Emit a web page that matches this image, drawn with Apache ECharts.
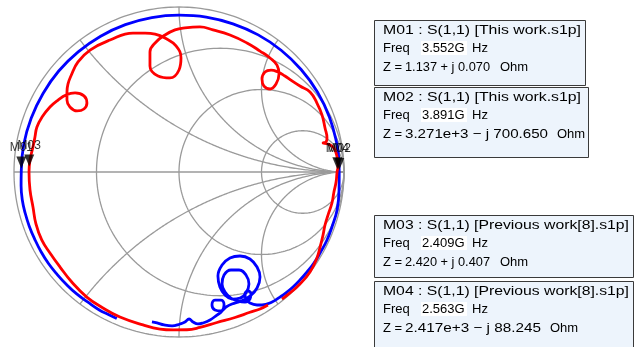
<!DOCTYPE html>
<html>
<head>
<meta charset="utf-8">
<script src="https://cdn.jsdelivr.net/npm/echarts@6/dist/echarts.min.js"></script>
<style>
  html, body { margin: 0; padding: 0; background: #ffffff; }
  #chart { width: 634px; height: 347px; }
</style>
</head>
<body>
<div id="chart"></div>
<script>
// Reference impedance of the Smith chart (Ohm)
const Z0 = 50;

// Grid: constant-resistance circles (r = 0 is the outer rim) and reactance arcs
const resistanceCircles = [0, 1 / 3, 1, 3];
const reactanceArcs = [0.5, 1, 2, -0.5, -1, -2];

// S(1,1) traces as reflection coefficient points [Re, Im]
const thisWorkS11 = [
  [-0.377, -0.888], [-0.431, -0.862], [-0.483, -0.836], [-0.552, -0.789], [-0.620, -0.739],
  [-0.682, -0.682], [-0.739, -0.620], [-0.790, -0.556], [-0.836, -0.483], [-0.874, -0.408],
  [-0.907, -0.330], [-0.932, -0.250], [-0.950, -0.168], [-0.957, -0.084], [-0.956, 0.000],
  [-0.941, 0.166], [-0.896, 0.326], [-0.824, 0.476], [-0.729, 0.612], [-0.611, 0.728],
  [-0.475, 0.823], [-0.325, 0.893], [-0.165, 0.936], [0.000, 0.951], [0.165, 0.939],
  [0.327, 0.898], [0.480, 0.831], [0.619, 0.738], [0.740, 0.621], [0.839, 0.485],
  [0.912, 0.332], [0.957, 0.169], [0.968, 0.085], [0.971, -0.006], [0.970, -0.109],
  [0.958, -0.230], [0.927, -0.333], [0.897, -0.412], [0.855, -0.491], [0.818, -0.552],
  [0.776, -0.606], [0.733, -0.655], [0.691, -0.697], [0.648, -0.733], [0.612, -0.758],
  [0.564, -0.788], [0.503, -0.806], [0.473, -0.806], [0.430, -0.794], [0.406, -0.770],
  [0.400, -0.739], [0.418, -0.721], [0.436, -0.739], [0.430, -0.770], [0.400, -0.788],
  [0.358, -0.782], [0.315, -0.764], [0.279, -0.727], [0.261, -0.679], [0.273, -0.624],
  [0.315, -0.594], [0.364, -0.594], [0.406, -0.624], [0.424, -0.679], [0.406, -0.733],
  [0.370, -0.764], [0.321, -0.770], [0.279, -0.745], [0.248, -0.697], [0.236, -0.630],
  [0.261, -0.564], [0.309, -0.521], [0.370, -0.509], [0.430, -0.527], [0.473, -0.576],
  [0.491, -0.636], [0.473, -0.703], [0.430, -0.752], [0.376, -0.782], [0.321, -0.800],
  [0.285, -0.818], [0.255, -0.842], [0.218, -0.836], [0.200, -0.806], [0.218, -0.776],
  [0.255, -0.776], [0.273, -0.806], [0.261, -0.842], [0.230, -0.867], [0.188, -0.897],
  [0.145, -0.915], [0.115, -0.921], [0.085, -0.909], [0.061, -0.891], [0.036, -0.909],
  [0.006, -0.921], [-0.042, -0.933], [-0.091, -0.927], [-0.133, -0.915], [-0.164, -0.909]
];

const previousWorkS11 = [
  [0.539, -0.806], [0.491, -0.830], [0.430, -0.850], [0.339, -0.882], [0.230, -0.912],
  [0.127, -0.942], [0.048, -0.956], [-0.036, -0.957], [-0.115, -0.952], [-0.218, -0.927],
  [-0.358, -0.879], [-0.461, -0.824], [-0.559, -0.758], [-0.650, -0.667], [-0.721, -0.576],
  [-0.782, -0.491], [-0.832, -0.412], [-0.867, -0.315], [-0.885, -0.212], [-0.903, -0.109],
  [-0.909, 0.000], [-0.903, 0.073], [-0.885, 0.152], [-0.873, 0.212], [-0.861, 0.273],
  [-0.830, 0.333], [-0.782, 0.394], [-0.733, 0.436], [-0.685, 0.467], [-0.630, 0.479],
  [-0.576, 0.461], [-0.558, 0.418], [-0.576, 0.382], [-0.618, 0.370], [-0.661, 0.394],
  [-0.679, 0.436], [-0.679, 0.485], [-0.673, 0.533], [-0.655, 0.582], [-0.612, 0.667],
  [-0.539, 0.739], [-0.418, 0.800], [-0.279, 0.842], [-0.206, 0.842], [-0.145, 0.836],
  [-0.085, 0.812], [-0.018, 0.764], [0.012, 0.691], [0.000, 0.618], [-0.055, 0.570],
  [-0.127, 0.582], [-0.176, 0.642], [-0.176, 0.727], [-0.139, 0.788], [-0.085, 0.830],
  [-0.024, 0.861], [0.036, 0.873], [0.127, 0.879], [0.206, 0.861], [0.309, 0.830],
  [0.412, 0.782], [0.491, 0.733], [0.552, 0.691], [0.594, 0.648], [0.606, 0.594],
  [0.588, 0.533], [0.552, 0.503], [0.515, 0.521], [0.503, 0.564], [0.521, 0.606],
  [0.558, 0.618], [0.600, 0.606], [0.642, 0.582], [0.685, 0.552], [0.733, 0.521],
  [0.794, 0.485], [0.836, 0.418], [0.867, 0.345], [0.885, 0.267], [0.897, 0.206],
  [0.891, 0.182], [0.873, 0.176], [0.903, 0.170], [0.939, 0.145], [0.958, 0.091],
  [0.964, 0.036], [0.958, 0.000], [0.952, -0.061], [0.939, -0.121], [0.927, -0.188],
  [0.903, -0.261], [0.885, -0.321], [0.873, -0.382], [0.855, -0.455], [0.836, -0.521],
  [0.794, -0.606], [0.733, -0.679], [0.673, -0.733], [0.624, -0.770]
];

// Markers
const markerNames = ['M01', 'M02', 'M03', 'M04'];
const markerFiles = ['This work.s1p', 'This work.s1p', 'Previous work[8].s1p', 'Previous work[8].s1p'];
const markerFreqs = ['3.552G', '3.891G', '2.409G', '2.563G'];
const markerZRe = [1.137, 3271, 2.420, 2417];
const markerZIm = [0.070, -700.650, 0.407, -88.245];

// Impedance (Ohm) -> reflection coefficient
function toGamma(re, im) {
  const a = re / Z0, b = im / Z0;
  const d = (a + 1) * (a + 1) + b * b;
  return [(a * a + b * b - 1) / d, (2 * b) / d];
}

function formatRe(v) {
  return Math.abs(v) >= 1000 ? v.toExponential(3) : v.toFixed(3);
}
function formatZ(re, im) {
  return formatRe(re) + (im < 0 ? ' \u2212 j ' : ' + j ') + Math.abs(im).toFixed(3);
}

// Grid curve list: kind 0 = resistance circle, 1 = reactance arc, 2 = real axis
const gridCurves = []
  .concat(resistanceCircles.map(r => [0, r]))
  .concat(reactanceArcs.map(x => [1, x]))
  .concat([[2, 0]]);

const GRID_COLOR = '#9a9a9a';

function renderGridCurve(params, api) {
  const kind = api.value(0);
  const v = api.value(1);
  const pts = [];
  if (kind === 0) {
    const cx = v / (1 + v), rad = 1 / (1 + v);
    for (let i = 0; i <= 240; i++) {
      const p = (2 * Math.PI * i) / 240;
      pts.push(api.coord([cx + rad * Math.cos(p), rad * Math.sin(p)]));
    }
  } else if (kind === 1) {
    // walk along z = r + jx for r from 0 to infinity
    for (let i = 0; i < 240; i++) {
      const r = Math.tan((Math.PI / 2) * (i / 240));
      const d = (r + 1) * (r + 1) + v * v;
      pts.push(api.coord([(r * r + v * v - 1) / d, (2 * v) / d]));
    }
    pts.push(api.coord([1, 0]));
  } else {
    pts.push(api.coord([-1, 0]), api.coord([1, 0]));
  }
  return {
    type: 'polyline',
    shape: { points: pts },
    style: { stroke: GRID_COLOR, lineWidth: 1.3, fill: null }
  };
}

// Marker points, drawn so that M03 sits over M01 and M02 over M04
const markerOrder = [0, 3, 2, 1];
const markerData = markerOrder.map(i => ({
  name: markerNames[i],
  value: toGamma(markerZRe[i], markerZIm[i])
}));

// Marker readout boxes
const FONT_FAMILY = '"Liberation Sans", Arial, sans-serif';
const FONT = '13px ' + FONT_FAMILY;
const measureCtx = document.createElement('canvas').getContext('2d');
function textWidth(s) {
  measureCtx.font = FONT;
  return measureCtx.measureText(s).width;
}

const boxLeft = 374;
const boxLayout = [
  { top: 20, height: 65, right: 585, titleWidth: 198, zEnd: 490, ohmX: 500 },
  { top: 87, height: 70, right: 588, titleWidth: 198, zEnd: 548, ohmX: 557 },
  { top: 215, height: 62, right: 633, titleWidth: 246, zEnd: 490, ohmX: 500 },
  { top: 281, height: 70, right: 633, titleWidth: 246, zEnd: 541, ohmX: 550 }
];

const graphics = [];
boxLayout.forEach((b, i) => {
  const title = markerNames[i] + ' : S(1,1) [' + markerFiles[i] + ']';
  const zText = formatZ(markerZRe[i], markerZIm[i]);
  const tx = boxLeft + 9;
  const zx = 405;
  graphics.push({
    type: 'rect',
    shape: { x: boxLeft + 0.5, y: b.top + 0.5, width: b.right - boxLeft, height: b.height },
    style: { fill: '#edf4fc', stroke: '#3a3a3a', lineWidth: 1 }
  });
  graphics.push({
    type: 'rect',
    shape: { x: 421, y: b.top + 21, width: 46, height: 14 },
    style: { fill: '#ffffff' }
  });
  graphics.push({
    type: 'text', x: tx, y: b.top + 10,
    scaleX: b.titleWidth / textWidth(title),
    style: { text: title, font: FONT, fill: '#000', verticalAlign: 'middle' }
  });
  graphics.push({
    type: 'text', x: tx, y: b.top + 28,
    style: { text: 'Freq', font: FONT, fill: '#000', verticalAlign: 'middle' }
  });
  graphics.push({
    type: 'text', x: 422, y: b.top + 28,
    style: { text: markerFreqs[i], font: FONT, fill: '#000', verticalAlign: 'middle' }
  });
  graphics.push({
    type: 'text', x: 472, y: b.top + 28,
    style: { text: 'Hz', font: FONT, fill: '#000', verticalAlign: 'middle' }
  });
  graphics.push({
    type: 'text', x: tx, y: b.top + 47,
    style: { text: 'Z =', font: FONT, fill: '#000', verticalAlign: 'middle' }
  });
  graphics.push({
    type: 'text', x: zx, y: b.top + 47,
    scaleX: (b.zEnd - zx) / textWidth(zText),
    style: { text: zText, font: FONT, fill: '#000', verticalAlign: 'middle' }
  });
  graphics.push({
    type: 'text', x: b.ohmX, y: b.top + 47,
    style: { text: 'Ohm', font: FONT, fill: '#000', verticalAlign: 'middle' }
  });
});

const chart = echarts.init(document.getElementById('chart'), null, { renderer: 'canvas' });
chart.setOption({
  animation: false,
  backgroundColor: '#ffffff',
  grid: { left: 14, top: 7, width: 330, height: 330 },
  xAxis: { type: 'value', min: -1, max: 1, show: false },
  yAxis: { type: 'value', min: -1, max: 1, show: false },
  series: [
    {
      type: 'custom',
      name: 'grid',
      silent: true,
      z: 1,
      renderItem: renderGridCurve,
      data: gridCurves
    },
    {
      type: 'line',
      name: 'This work',
      data: thisWorkS11,
      showSymbol: false,
      smooth: 0.45,
      z: 2,
      lineStyle: { color: '#0000ff', width: 2.8 }
    },
    {
      type: 'line',
      name: 'Previous work[8]',
      data: previousWorkS11,
      showSymbol: false,
      smooth: 0.45,
      z: 3,
      lineStyle: { color: '#ff0000', width: 2.8 }
    },
    {
      type: 'scatter',
      name: 'markers',
      z: 4,
      data: markerData,
      symbol: 'triangle',
      symbolRotate: 180,
      symbolSize: [10, 12],
      symbolOffset: [0, -9],
      itemStyle: { color: '#000000' },
      label: {
        show: true,
        position: 'top',
        distance: 3,
        formatter: '{b}',
        fontFamily: FONT_FAMILY,
        fontSize: 12,
        color: '#000000'
      }
    }
  ],
  graphic: graphics
});
</script>
</body>
</html>
